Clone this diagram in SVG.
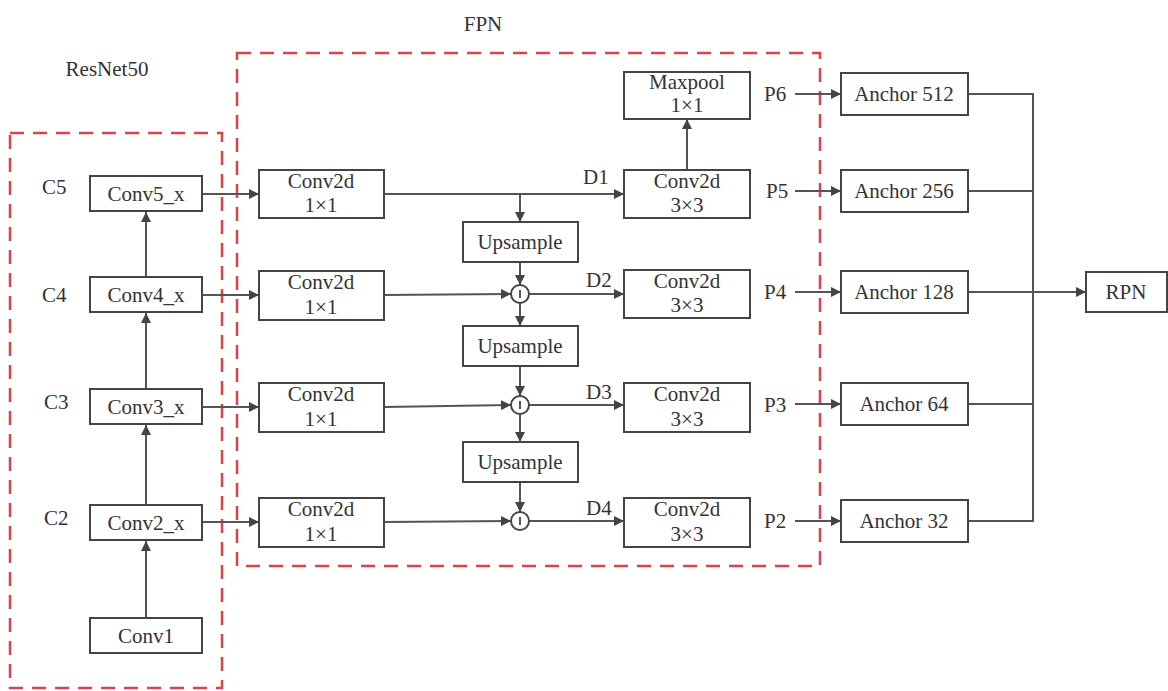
<svg xmlns="http://www.w3.org/2000/svg" width="1168" height="691" viewBox="0 0 1168 691" font-family="'Liberation Serif', 'DejaVu Serif', serif">
<style>
.box{fill:#fff;stroke:#444;stroke-width:2}
.t{font-family:'Liberation Serif','DejaVu Serif',serif;font-size:21px;fill:#333;text-anchor:middle}
.lb{font-family:'Liberation Serif','DejaVu Serif',serif;font-size:21px;fill:#333}
.dash{fill:none;stroke:#d9434a;stroke-width:2.5;stroke-dasharray:14 9}
.ln{fill:none;stroke:#555;stroke-width:2}
.ar{fill:none;stroke:#555;stroke-width:2;marker-end:url(#ah)}
</style>
<defs>
<marker id="ah" viewBox="0 0 10 10" refX="10" refY="5" markerWidth="5" markerHeight="5" orient="auto" markerUnits="strokeWidth">
<path d="M0,0 L10,5 L0,10 z" fill="#444"/>
</marker>
</defs>
<rect width="1168" height="691" fill="#fff"/>

<g id="groups">
<rect class="dash" x="10" y="133" width="212" height="555"/>
<rect class="dash" x="237" y="53" width="583" height="513"/>
<text class="t" x="107" y="76">ResNet50</text>
<text class="t" x="483" y="31">FPN</text>
</g>

<g id="connectors">
<line class="ar" x1="146" y1="618" x2="146" y2="541"/>
<line class="ar" x1="146" y1="505" x2="146" y2="425"/>
<line class="ar" x1="146" y1="389" x2="146" y2="313"/>
<line class="ar" x1="146" y1="277" x2="146" y2="212"/>
<line class="ar" x1="202" y1="194" x2="259" y2="194"/>
<line class="ar" x1="202" y1="295" x2="259" y2="295"/>
<line class="ar" x1="202" y1="407" x2="259" y2="407"/>
<line class="ar" x1="202" y1="522" x2="259" y2="522"/>
<line class="ar" x1="384" y1="194" x2="624" y2="194"/>
<line class="ar" x1="520" y1="194" x2="520" y2="222"/>
<line class="ar" x1="520" y1="262" x2="520" y2="285"/>
<line class="ar" x1="520" y1="303" x2="520" y2="326"/>
<line class="ar" x1="520" y1="366" x2="520" y2="396"/>
<line class="ar" x1="520" y1="414" x2="520" y2="442"/>
<line class="ar" x1="520" y1="482" x2="520" y2="512"/>
<line class="ar" x1="384" y1="295" x2="511" y2="294"/>
<line class="ar" x1="384" y1="407" x2="511" y2="405"/>
<line class="ar" x1="384" y1="522" x2="511" y2="521"/>
<line class="ar" x1="529" y1="294" x2="624" y2="294"/>
<line class="ar" x1="529" y1="405" x2="624" y2="405"/>
<line class="ar" x1="529" y1="521" x2="624" y2="521"/>
<line class="ar" x1="687" y1="170" x2="687" y2="119"/>
<line class="ar" x1="795" y1="94" x2="841" y2="94"/>
<line class="ar" x1="795" y1="191" x2="841" y2="191"/>
<line class="ar" x1="795" y1="292" x2="841" y2="292"/>
<line class="ar" x1="795" y1="404" x2="841" y2="404"/>
<line class="ar" x1="795" y1="521" x2="841" y2="521"/>
<polyline class="ln" points="968,94 1033,94 1033,521 968,521"/>
<line class="ln" x1="968" y1="191" x2="1033" y2="191"/>
<line class="ln" x1="968" y1="404" x2="1033" y2="404"/>
<line class="ar" x1="968" y1="292" x2="1086" y2="292"/>
</g>

<g id="conv5"><rect class="box" x="90" y="176" width="112" height="35"/><text class="t" x="146" y="201">Conv5_x</text><text class="lb" x="42" y="194">C5</text></g>
<g id="conv4"><rect class="box" x="90" y="277" width="112" height="35"/><text class="t" x="146" y="302">Conv4_x</text><text class="lb" x="42" y="302">C4</text></g>
<g id="conv3"><rect class="box" x="90" y="389" width="112" height="35"/><text class="t" x="146" y="414">Conv3_x</text><text class="lb" x="44" y="409">C3</text></g>
<g id="conv2"><rect class="box" x="90" y="505" width="112" height="35"/><text class="t" x="146" y="530">Conv2_x</text><text class="lb" x="44" y="525">C2</text></g>
<g id="conv1"><rect class="box" x="90" y="618" width="112" height="35"/><text class="t" x="146" y="643">Conv1</text></g>

<g id="lat5"><rect class="box" x="259" y="170" width="125" height="48"/><text class="t" x="321" y="188">Conv2d</text><text class="t" x="321" y="212">1×1</text></g>
<g id="lat4"><rect class="box" x="259" y="271" width="125" height="49"/><text class="t" x="321" y="289">Conv2d</text><text class="t" x="321" y="314">1×1</text></g>
<g id="lat3"><rect class="box" x="259" y="383" width="125" height="49"/><text class="t" x="321" y="401">Conv2d</text><text class="t" x="321" y="426">1×1</text></g>
<g id="lat2"><rect class="box" x="259" y="498" width="125" height="49"/><text class="t" x="321" y="516">Conv2d</text><text class="t" x="321" y="541">1×1</text></g>

<g id="up1"><rect class="box" x="463" y="222" width="115" height="40"/><text class="t" x="520" y="249">Upsample</text></g>
<g id="up2"><rect class="box" x="463" y="326" width="115" height="40"/><text class="t" x="520" y="353">Upsample</text></g>
<g id="up3"><rect class="box" x="463" y="442" width="115" height="40"/><text class="t" x="520" y="469">Upsample</text></g>

<g id="add1"><circle class="box" cx="520" cy="294" r="9"/><line class="ln" x1="520" y1="290" x2="520" y2="298"/></g>
<g id="add2"><circle class="box" cx="520" cy="405" r="9"/><line class="ln" x1="520" y1="401" x2="520" y2="409"/></g>
<g id="add3"><circle class="box" cx="520" cy="521" r="9"/><line class="ln" x1="520" y1="517" x2="520" y2="525"/></g>

<g id="dlabels">
<text class="lb" x="583" y="184">D1</text>
<text class="lb" x="586" y="287">D2</text>
<text class="lb" x="586" y="399">D3</text>
<text class="lb" x="586" y="515">D4</text>
</g>

<g id="maxpool"><rect class="box" x="624" y="72" width="126" height="47"/><text class="t" x="687" y="89">Maxpool</text><text class="t" x="687" y="112">1×1</text></g>
<g id="out5"><rect class="box" x="624" y="170" width="126" height="48"/><text class="t" x="687" y="188">Conv2d</text><text class="t" x="687" y="212">3×3</text></g>
<g id="out4"><rect class="box" x="624" y="270" width="126" height="48"/><text class="t" x="687" y="288">Conv2d</text><text class="t" x="687" y="312">3×3</text></g>
<g id="out3"><rect class="box" x="624" y="383" width="126" height="49"/><text class="t" x="687" y="401">Conv2d</text><text class="t" x="687" y="426">3×3</text></g>
<g id="out2"><rect class="box" x="624" y="498" width="126" height="49"/><text class="t" x="687" y="516">Conv2d</text><text class="t" x="687" y="541">3×3</text></g>

<g id="plabels">
<text class="lb" x="764" y="101">P6</text>
<text class="lb" x="766" y="198">P5</text>
<text class="lb" x="764" y="299">P4</text>
<text class="lb" x="764" y="412">P3</text>
<text class="lb" x="764" y="528">P2</text>
</g>

<g id="a512"><rect class="box" x="841" y="73" width="127" height="42"/><text class="t" x="904" y="101">Anchor 512</text></g>
<g id="a256"><rect class="box" x="841" y="170" width="127" height="42"/><text class="t" x="904" y="198">Anchor 256</text></g>
<g id="a128"><rect class="box" x="841" y="271" width="127" height="42"/><text class="t" x="904" y="299">Anchor 128</text></g>
<g id="a64"><rect class="box" x="841" y="383" width="127" height="42"/><text class="t" x="904" y="411">Anchor 64</text></g>
<g id="a32"><rect class="box" x="841" y="500" width="127" height="42"/><text class="t" x="904" y="528">Anchor 32</text></g>

<g id="rpn"><rect class="box" x="1086" y="272" width="81" height="40"/><text class="t" x="1126" y="299">RPN</text></g>
</svg>
